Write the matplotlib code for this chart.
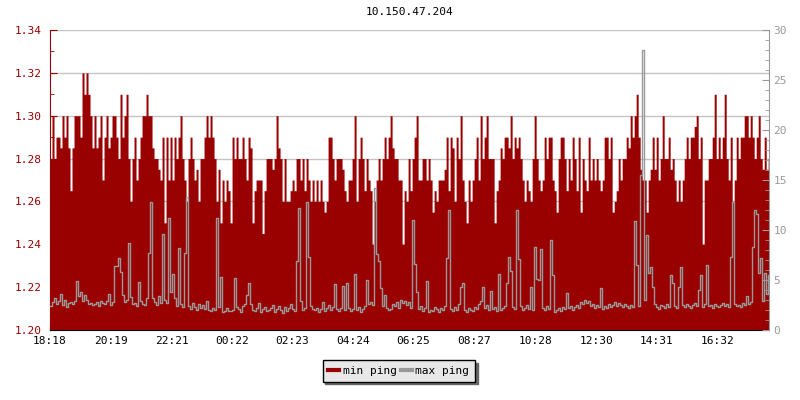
import matplotlib
matplotlib.use("Agg")
import matplotlib.pyplot as plt
from matplotlib.ticker import MultipleLocator, FixedLocator
from matplotlib.lines import Line2D
import numpy as np

RED = "#990000"
GRAY = "#999999"
FONT = "DejaVu Sans Mono"

title = "10.150.47.204"
step_minutes = 4
start_label = "18:18"
tick_labels = ["18:18", "20:19", "22:21", "00:22", "02:23", "04:24",
               "06:25", "08:27", "10:28", "12:30", "14:31", "16:32"]

# min ping (left axis), one value per 4 minutes
min_ping = [
    1.28, 1.30, 1.28, 1.29, 1.29, 1.285, 1.30, 1.29, 1.30, 1.285,
    1.265, 1.285, 1.30, 1.30, 1.30, 1.29, 1.32, 1.31, 1.32, 1.31,
    1.30, 1.285, 1.30, 1.285, 1.29, 1.30, 1.27, 1.29, 1.30, 1.285,
    1.29, 1.30, 1.30, 1.29, 1.28, 1.31, 1.29, 1.30, 1.31, 1.28,
    1.26, 1.28, 1.29, 1.27, 1.28, 1.29, 1.30, 1.30, 1.31, 1.30,
    1.30, 1.285, 1.28, 1.28, 1.275, 1.27, 1.29, 1.25, 1.29, 1.27,
    1.29, 1.27, 1.29, 1.28, 1.29, 1.30, 1.28, 1.27, 1.26, 1.28,
    1.29, 1.28, 1.27, 1.275, 1.26, 1.28, 1.28, 1.29, 1.30, 1.29,
    1.30, 1.29, 1.28, 1.26, 1.275, 1.25, 1.27, 1.26, 1.27, 1.265,
    1.25, 1.29, 1.28, 1.29, 1.28, 1.28, 1.29, 1.28, 1.27, 1.29,
    1.285, 1.25, 1.265, 1.27, 1.27, 1.27, 1.245, 1.265, 1.28, 1.28,
    1.28, 1.275, 1.28, 1.30, 1.285, 1.28, 1.26, 1.28, 1.26, 1.26,
    1.265, 1.27, 1.265, 1.28, 1.28, 1.27, 1.28, 1.265, 1.28, 1.27,
    1.26, 1.27, 1.26, 1.27, 1.26, 1.27, 1.26, 1.255, 1.26, 1.29,
    1.29, 1.28, 1.27, 1.28, 1.28, 1.28, 1.275, 1.265, 1.26, 1.27,
    1.27, 1.28, 1.30, 1.26, 1.28, 1.29, 1.28, 1.265, 1.28, 1.27,
    1.265, 1.24, 1.26, 1.27, 1.28, 1.27, 1.28, 1.29, 1.28, 1.29,
    1.30, 1.285, 1.28, 1.28, 1.27, 1.27, 1.24, 1.265, 1.26, 1.28,
    1.265, 1.28, 1.29, 1.30, 1.27, 1.27, 1.28, 1.28, 1.27, 1.28,
    1.27, 1.255, 1.265, 1.26, 1.27, 1.27, 1.27, 1.275, 1.29, 1.265,
    1.29, 1.285, 1.26, 1.29, 1.28, 1.30, 1.27, 1.26, 1.25, 1.27,
    1.26, 1.27, 1.28, 1.29, 1.27, 1.30, 1.28, 1.29, 1.30, 1.28,
    1.28, 1.28, 1.25, 1.265, 1.27, 1.285, 1.28, 1.29, 1.29, 1.285,
    1.30, 1.28, 1.29, 1.285, 1.29, 1.28, 1.27, 1.26, 1.27, 1.265,
    1.26, 1.28, 1.30, 1.28, 1.27, 1.265, 1.27, 1.29, 1.28, 1.29,
    1.29, 1.27, 1.265, 1.255, 1.28, 1.29, 1.29, 1.28, 1.265, 1.28,
    1.27, 1.29, 1.28, 1.265, 1.29, 1.255, 1.28, 1.27, 1.265, 1.29,
    1.27, 1.28, 1.27, 1.28, 1.27, 1.265, 1.27, 1.29, 1.29, 1.28,
    1.29, 1.255, 1.26, 1.265, 1.28, 1.27, 1.28, 1.28, 1.29, 1.285,
    1.30, 1.29, 1.30, 1.31, 1.29, 1.275, 1.27, 1.27, 1.255, 1.27,
    1.275, 1.29, 1.275, 1.29, 1.27, 1.28, 1.30, 1.28, 1.28, 1.29,
    1.275, 1.28, 1.27, 1.26, 1.27, 1.26, 1.27, 1.28, 1.29, 1.28,
    1.29, 1.29, 1.295, 1.30, 1.28, 1.29, 1.24, 1.27, 1.27, 1.28,
    1.28, 1.29, 1.31, 1.28, 1.29, 1.28, 1.29, 1.31, 1.28, 1.27,
    1.29, 1.26, 1.27, 1.29, 1.28, 1.29, 1.29, 1.30, 1.30, 1.29,
    1.30, 1.29, 1.28, 1.29, 1.30, 1.28, 1.275, 1.29, 1.275, 1.28,
]

# max ping (right axis)
max_ping = [
    2.4, 2.8, 3.2, 2.6, 2.9, 3.6, 2.5, 3.0, 2.3, 2.7,
    2.8, 2.6, 2.9, 4.9, 3.4, 3.8, 2.9, 3.5, 3.0, 2.6,
    2.7, 2.5, 2.6, 2.8, 2.4, 2.9, 2.7, 2.6, 2.9, 3.6,
    2.5, 2.8, 6.4, 6.4, 7.2, 5.8, 3.5, 2.8, 3.0, 8.7,
    3.3, 2.6, 2.7, 2.4, 4.8, 2.9, 2.6, 2.5, 3.2, 7.7,
    12.8, 3.2, 2.8, 2.5, 3.4, 2.7, 9.6, 3.0, 2.7, 11.2,
    3.8, 5.6, 3.2, 2.4, 8.2, 2.6, 2.3, 7.7, 13.3, 2.4,
    2.1, 2.7, 2.3, 2.0, 2.6, 2.2, 2.5, 2.1, 2.9, 2.0,
    1.9, 2.2, 2.0, 11.2, 2.3, 5.3, 1.8, 1.9, 2.2, 1.9,
    1.9, 2.0, 5.2, 2.3, 2.1, 1.8, 2.4, 2.6, 3.5, 4.7,
    2.6, 2.0, 1.9, 2.2, 2.7, 1.8, 2.1, 2.3, 1.9, 2.0,
    2.2, 2.5, 1.8, 2.1, 2.4, 2.0, 1.7, 2.3, 1.9, 2.2,
    2.6, 2.1, 1.9, 6.9, 12.2, 2.9, 2.0, 2.2, 12.8, 7.3,
    2.4, 2.1, 2.0, 2.2, 1.8, 2.1, 2.8, 1.9, 2.2, 2.5,
    2.0, 2.3, 4.6, 2.1, 1.9, 2.2, 4.4, 2.0, 4.7, 2.2,
    1.9, 2.1, 5.6, 2.0, 2.3, 1.8, 2.1, 2.4, 5.0, 2.6,
    2.8, 2.5, 14.2, 7.6, 6.9, 4.2, 2.4, 3.5, 2.2, 2.0,
    2.1, 2.6, 2.4, 2.8, 2.2, 3.0, 2.7, 2.9, 2.5, 2.8,
    2.2, 11.0, 6.6, 3.8, 2.1, 2.4, 1.9, 2.2, 4.9, 1.8,
    2.0, 1.9, 2.3, 2.1, 1.8, 2.2, 2.0, 2.4, 7.2, 12.0,
    2.1, 1.9, 2.3, 2.0, 2.6, 4.3, 4.7, 2.0, 1.8, 2.2,
    2.0, 1.9, 2.3, 2.1, 2.6, 2.9, 4.3, 2.2, 2.5, 2.0,
    3.9, 2.1, 2.3, 1.9, 5.6, 2.0, 2.2, 2.4, 4.7, 7.3,
    5.9, 2.3, 2.1, 12.0, 7.1, 2.4, 2.0, 2.2, 2.5, 2.1,
    4.3, 2.0, 8.3, 5.1, 5.0, 8.1, 2.2, 2.0, 2.4, 2.1,
    9.0, 5.5, 1.8, 2.0, 2.2, 1.9, 2.3, 2.1, 3.7, 2.2,
    2.4, 2.0, 2.3, 2.5, 2.2, 2.8, 2.6, 3.0, 2.7, 2.9,
    2.4, 2.6, 2.2, 2.5, 2.3, 4.2, 2.1, 2.4, 2.2, 2.6,
    2.3, 2.5, 2.8, 2.4, 2.7, 2.5, 2.3, 2.6, 2.4, 2.2,
    2.5, 2.3, 10.9, 6.5, 2.4, 15.5, 28.0, 3.0, 9.5, 5.7,
    6.3, 4.3, 2.6, 2.3, 2.1, 2.5, 2.4, 2.2, 2.6, 2.3,
    5.5, 4.7, 2.4, 2.2, 4.3, 6.3, 2.5, 2.3, 2.6, 2.4,
    2.2, 2.5, 2.7, 2.4, 4.0, 5.5, 2.3, 2.6, 6.5, 2.4,
    2.5, 2.2, 2.6, 2.4, 2.3, 2.5, 2.7, 2.4, 2.6, 2.3,
    7.3, 12.8, 2.6, 2.4, 2.5, 2.3, 2.7, 2.5, 3.4, 2.6,
    2.8, 8.3, 12.0, 11.6, 5.7, 7.2, 2.9, 5.7, 3.6, 5.5,
]


def to_minutes(label):
    h, m = map(int, label.split(":"))
    h0, m0 = map(int, start_label.split(":"))
    return (h * 60 + m - h0 * 60 - m0) % 1440


t = np.arange(len(min_ping)) * step_minutes
t_edges = np.append(t, t[-1] + step_minutes)
min_vals = np.append(min_ping, min_ping[-1])
max_vals = np.append(max_ping, max_ping[-1])

fig = plt.figure(figsize=(8, 4), dpi=100, facecolor="white")
ax = fig.add_axes([0.0625, 0.175, 0.899, 0.75])
ax2 = ax.twinx()

ax.set_axisbelow(True)
ax.fill_between(t_edges, min_vals, 1.20, step="post", color=RED, lw=0)
ax2.step(t_edges, max_vals, where="post", color=GRAY, lw=1)

ax.set_xlim(0, 1438)
ax.set_ylim(1.20, 1.34)
ax2.set_ylim(0, 30)

ax.yaxis.set_major_locator(MultipleLocator(0.02))
ax.yaxis.set_minor_locator(MultipleLocator(0.01))
ax.yaxis.set_major_formatter(plt.FormatStrFormatter("%.2f"))
ax.grid(axis="y", color="#c4c4c4", lw=1)
ax.xaxis.set_major_locator(FixedLocator([to_minutes(s) for s in tick_labels]))
ax.set_xticklabels(tick_labels)

ax2.yaxis.set_major_locator(MultipleLocator(5))
ax2.yaxis.set_minor_locator(MultipleLocator(1))

for s in ["top", "right"]:
    ax.spines[s].set_visible(False)
for s in ["top", "left", "bottom"]:
    ax2.spines[s].set_visible(False)
ax.spines["left"].set_color(RED)
ax.spines["bottom"].set_color("black")
ax2.spines["right"].set_color(GRAY)

ax.tick_params(axis="y", which="major", direction="in", length=5, colors=RED,
               labelsize=8, pad=6)
ax.tick_params(axis="y", which="minor", direction="in", length=3, colors=RED)
ax.tick_params(axis="x", direction="in", length=5, colors="black",
               labelsize=8, pad=4)
ax2.tick_params(axis="y", which="major", direction="in", length=5, colors=GRAY,
                labelsize=8, pad=3)
ax2.tick_params(axis="y", which="minor", direction="in", length=3, colors=GRAY)
for lab in ax.get_xticklabels() + ax.get_yticklabels() + ax2.get_yticklabels():
    lab.set_fontfamily(FONT)

fig.text(0.512, 0.97, title, ha="center", va="center", fontsize=8,
         family=FONT)

handles = [Line2D([], [], color=RED, lw=3), Line2D([], [], color=GRAY, lw=3)]
leg = fig.legend(handles, ["min ping", "max ping"], loc="center",
                 bbox_to_anchor=(0.4985, 0.0725), ncol=2, frameon=True,
                 fancybox=False, edgecolor="black", facecolor="#e8e8e8",
                 framealpha=1, handlelength=1.0, handletextpad=0.3,
                 columnspacing=0.4, borderpad=0.5,
                 shadow={"facecolor": "#666666", "edgecolor": "#666666", "alpha": 1.0},
                 prop={"family": FONT, "size": 8})
leg.get_frame().set_linewidth(1.0)

fig.savefig("out.png", dpi=100, facecolor="white")
